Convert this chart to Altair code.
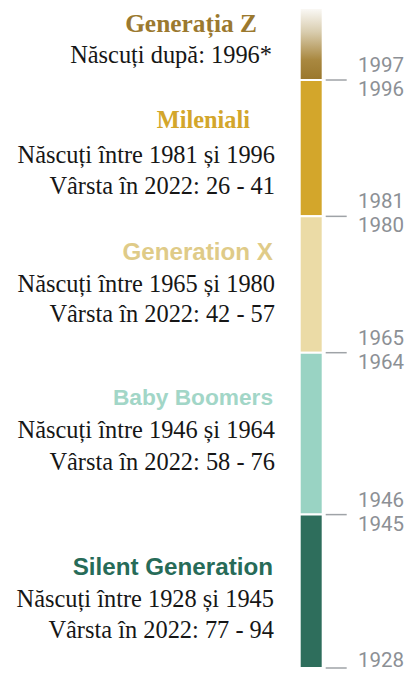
import altair as alt
import pandas as pd

# ---------------- data ----------------
generations = ["Generația Z", "Mileniali", "Generation X", "Baby Boomers", "Silent Generation"]
start_years = [1997, 1981, 1965, 1946, 1928]
end_years = [None, 1996, 1980, 1964, 1945]          # Gen Z is open-ended
axis_top = 2005.45                                  # where the fading Gen Z bar stops
line_born = [
    "Născuți după: 1996*",
    "Născuți între 1981 și 1996",
    "Născuți între 1965 și 1980",
    "Născuți între 1946 și 1964",
    "Născuți între 1928 și 1945",
]
line_age = [
    None,
    "Vârsta în 2022: 26 - 41",
    "Vârsta în 2022: 42 - 57",
    "Vârsta în 2022: 58 - 76",
    "Vârsta în 2022: 77 - 94",
]

# ---------------- styling / layout ----------------
bar_colors = {"Mileniali": "#d3a62b", "Generation X": "#ebdba6",
              "Baby Boomers": "#99d3c3", "Silent Generation": "#2e6e5c"}
title_colors = ["#9b792f", "#d3a62b", "#dfcb88", "#a2d6c7", "#276b58"]
title_fonts = ["Liberation Serif", "Liberation Serif", "Liberation Sans", "Liberation Sans", "Liberation Sans"]
title_sizes = [25.4, 24.3, 24.2, 22.7, 24.2]
title_right = [249, 242, 265, 265, 265]
text_right = [264, 267, 267, 267, 266]
body_size = 24.4
# baseline offsets (px) below the top of each bar for title / line 1 / line 2
block_dy = [(24, 55, None), (48, 83, 114), (44, 76, 106), (52, 85, 117), (60, 92, 123)]

W, H = 397, 660
yscale = alt.Scale(domain=[1928, axis_top], nice=False, zero=False)
BAR_X1, BAR_X2 = 291.7, 314.7
TICK_X1, TICK_X2 = 317.7, 338.7
LABEL_X = 350

tops = [axis_top if e is None else e + 1 for e in end_years]
bars_df = pd.DataFrame({"gen": generations, "start": start_years, "top": tops})

layers = []

# solid bars
solid = (
    alt.Chart(bars_df[bars_df["gen"] != generations[0]])
    .mark_rect(stroke="white", strokeWidth=2)
    .encode(
        y=alt.Y("start:Q", scale=yscale, axis=None),
        y2="top:Q",
        x=alt.value(BAR_X1),
        x2=alt.value(BAR_X2),
        color=alt.Color("gen:N", scale=alt.Scale(domain=list(bar_colors.keys()),
                                                  range=list(bar_colors.values())), legend=None),
    )
)
layers.append(solid)

# Gen Z fading bar
genz = (
    alt.Chart(bars_df[bars_df["gen"] == generations[0]])
    .mark_rect(
        stroke="white", strokeWidth=2,
        fill=alt.Gradient(
            gradient="linear", x1=0, x2=0, y1=0, y2=1,
            stops=[
                alt.GradientStop(color="#fbfaf8", offset=0),
                alt.GradientStop(color="#d9cdaf", offset=0.33),
                alt.GradientStop(color="#a98840", offset=0.72),
                alt.GradientStop(color="#9a772c", offset=1),
            ],
        ),
    )
    .encode(
        y=alt.Y("start:Q", scale=yscale, axis=None),
        y2="top:Q",
        x=alt.value(BAR_X1),
        x2=alt.value(BAR_X2),
    )
)
layers.append(genz)

# boundary ticks
ticks_df = pd.DataFrame({"year": start_years})
ticks = (
    alt.Chart(ticks_df)
    .mark_rule(color="#9fa3a7", strokeWidth=1.5)
    .encode(
        y=alt.Y("year:Q", scale=yscale, axis=None),
        x=alt.value(TICK_X1),
        x2=alt.value(TICK_X2),
    )
)
layers.append(ticks)

# year labels at boundaries
label_style = dict(align="left", baseline="alphabetic", font="Roboto",
                   fontSize=20.5, color="#8c9095")
for i, (s, e) in enumerate(zip(start_years, end_years)):
    # start year label just above the boundary tick (the lowest one sits on the tick)
    dy = -1 if s == min(start_years) else -8
    d = pd.DataFrame({"pos": [s], "txt": [str(s)]})
    layers.append(
        alt.Chart(d).mark_text(dy=dy, **label_style)
        .encode(y=alt.Y("pos:Q", scale=yscale, axis=None), x=alt.value(LABEL_X), text="txt:N")
    )
    if e is not None:
        d = pd.DataFrame({"pos": [e + 1], "txt": [str(e)]})
        layers.append(
            alt.Chart(d).mark_text(dy=16, **label_style)
            .encode(y=alt.Y("pos:Q", scale=yscale, axis=None), x=alt.value(LABEL_X), text="txt:N")
        )

# text blocks left of the bars
for i, g in enumerate(generations):
    anchor = tops[i]
    d_title, d_1, d_2 = block_dy[i]
    rows = [(g, d_title, title_fonts[i], title_sizes[i], "bold", title_colors[i], title_right[i]),
            (line_born[i], d_1, "Liberation Serif", body_size, "normal", "#161616", text_right[i])]
    if line_age[i] is not None:
        rows.append((line_age[i], d_2, "Liberation Serif", body_size, "normal", "#161616", text_right[i]))
    for txt, dy, font, size, weight, col, xr in rows:
        d = pd.DataFrame({"pos": [anchor], "txt": [txt]})
        layers.append(
            alt.Chart(d)
            .mark_text(dy=dy, align="right", baseline="alphabetic", font=font,
                       fontSize=size, fontWeight=weight, color=col)
            .encode(y=alt.Y("pos:Q", scale=yscale, axis=None), x=alt.value(xr), text="txt:N")
        )

chart = (
    alt.layer(*layers)
    .properties(width=W, height=H, background="white",
                autosize=alt.AutoSizeParams(type="none"),
                padding={"left": 0, "top": 0, "right": 0, "bottom": 3})
    .configure_view(stroke=None)
)

chart.save("out.html", embed_options={"renderer": "svg", "actions": False})
